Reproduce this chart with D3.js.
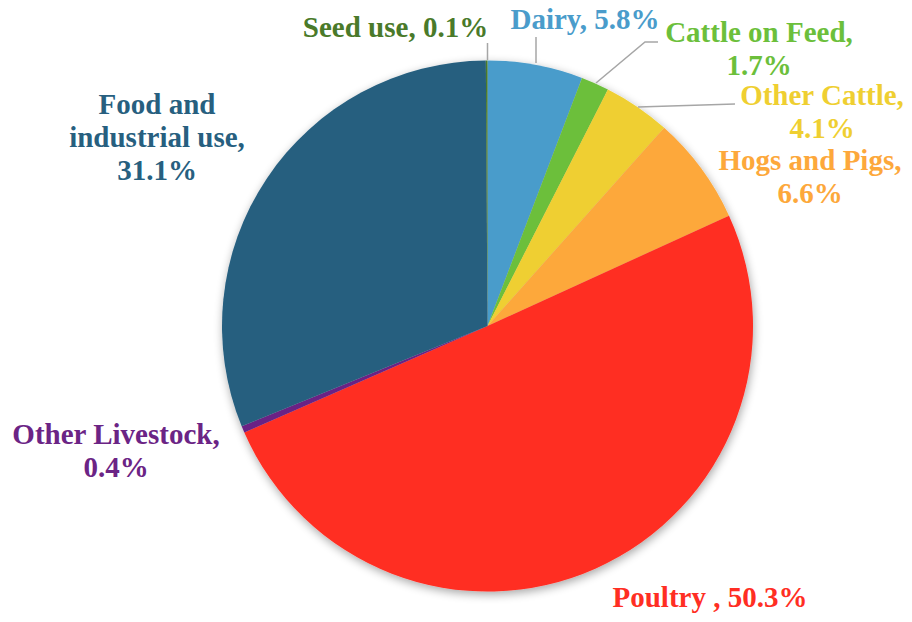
<!DOCTYPE html>
<html>
<head>
<meta charset="utf-8">
<script src="https://cdn.jsdelivr.net/npm/d3@7"></script>
<style>
  html, body { margin: 0; padding: 0; background: #ffffff; }
  svg { display: block; }
</style>
</head>
<body>
<svg id="chart" width="912" height="622"></svg>
<script>
// Slices in clockwise order starting at 12 o'clock
const categories = ["Dairy", "Cattle on Feed", "Other Cattle", "Hogs and Pigs", "Poultry ", "Other Livestock", "Food and industrial use", "Seed use"];
const shares = [5.8, 1.7, 4.1, 6.6, 50.3, 0.4, 31.1, 0.1];
const colors = ["#4a9ccb", "#6cbf3b", "#efcf31", "#fda83b", "#ff2e23", "#6b2485", "#275f7f", "#4a7a2a"];

// Label layout: lines of text, centre x and first baseline y
const labelLayout = [
  { lines: [d => `${d.name}, ${d.value}%`], x: 585, y: 29 },
  { lines: [d => `${d.name},`, d => `${d.value}%`], x: 759, y: 42 },
  { lines: [d => `${d.name},`, d => `${d.value}%`], x: 822, y: 105 },
  { lines: [d => `${d.name},`, d => `${d.value}%`], x: 810, y: 170 },
  { lines: [d => `${d.name}, ${d.value}%`], x: 710, y: 607 },
  { lines: [d => `${d.name},`, d => `${d.value}%`], x: 116, y: 444 },
  { lines: [d => "Food and", d => "industrial use,", d => `${d.value}%`], x: 157, y: 114 },
  { lines: [d => `${d.name}, ${d.value}%`], x: 395.5, y: 36.5 }
];
const lineHeight = 33;

// Leader lines from slice edge to label: [x, y] points
const leaders = [
  [[536, 63], [536, 37]],
  [[596, 83], [645, 42], [658, 42]],
  [[638, 107], [735, 104]],
  null,
  null,
  null,
  null,
  [[487.5, 60], [487.5, 43]]
];

const data = categories.map((name, i) => ({ name, value: shares[i], i }));

const cx = 487.5, cy = 326, radius = 265.5;
const svg = d3.select("#chart");

const defs = svg.append("defs");
const shadow = defs.append("filter").attr("id", "shadow")
  .attr("x", "-20%").attr("y", "-20%").attr("width", "140%").attr("height", "140%");
shadow.append("feGaussianBlur").attr("in", "SourceAlpha").attr("stdDeviation", 5).attr("result", "blur");
shadow.append("feOffset").attr("in", "blur").attr("dx", 1).attr("dy", 3).attr("result", "off");
shadow.append("feComponentTransfer").attr("in", "off").attr("result", "faded")
  .append("feFuncA").attr("type", "linear").attr("slope", 0.35);
const merge = shadow.append("feMerge");
merge.append("feMergeNode").attr("in", "faded");
merge.append("feMergeNode").attr("in", "SourceGraphic");

const pie = d3.pie().sort(null).value(d => d.value);
const arc = d3.arc().innerRadius(0).outerRadius(radius);

const g = svg.append("g").attr("transform", `translate(${cx},${cy})`).attr("filter", "url(#shadow)");
g.selectAll("path")
  .data(pie(data))
  .join("path")
  .attr("d", arc)
  .attr("fill", d => colors[d.data.i]);

const line = d3.line();
svg.append("g").selectAll("path")
  .data(leaders.filter(l => l))
  .join("path")
  .attr("d", line)
  .attr("fill", "none")
  .attr("stroke", "#a6a6a6")
  .attr("stroke-width", 1.5);

// One text element per label line
data.forEach((d, i) => {
  const L = labelLayout[i];
  L.lines.forEach((fn, k) => {
    svg.append("text")
      .attr("x", L.x)
      .attr("y", L.y + k * lineHeight)
      .attr("font-family", "Liberation Serif")
      .attr("font-weight", "bold")
      .attr("font-size", 29)
      .attr("text-anchor", "middle")
      .attr("fill", colors[i])
      .text(fn(d));
  });
});
</script>
</body>
</html>
